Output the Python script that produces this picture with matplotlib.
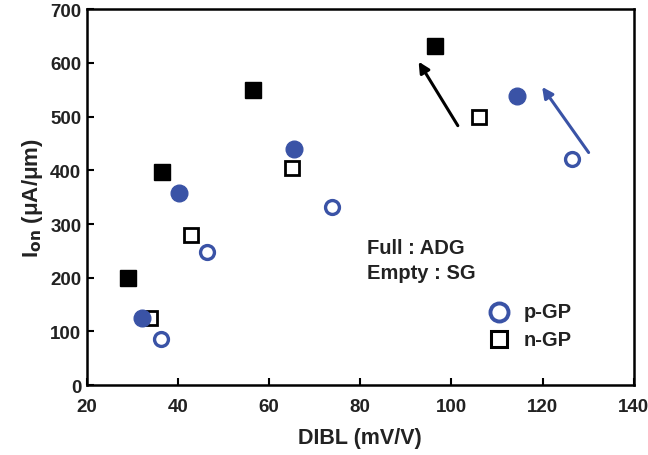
import matplotlib
matplotlib.use("Agg")
import matplotlib.pyplot as plt

plt.rcParams["font.family"] = ["Liberation Sans", "DejaVu Sans"]
plt.rcParams["font.weight"] = "bold"

BLUE = "#3a53a6"

# n-GP, ADG (full squares) / SG (empty squares)
n_adg_x = [29, 36.5, 56.4, 96.3]
n_adg_y = [199, 396, 549, 632]
n_sg_x = [33.8, 42.8, 65.1, 106.1]
n_sg_y = [126, 279, 405, 500]

# p-GP, ADG (full circles) / SG (empty circles)
p_adg_x = [32, 40.2, 65.5, 114.4]
p_adg_y = [126, 358, 440, 538]
p_sg_x = [36.2, 46.4, 73.8, 126.5]
p_sg_y = [86, 248, 332, 421]

x_ticks = [20, 40, 60, 80, 100, 120, 140]
y_ticks = [0, 100, 200, 300, 400, 500, 600, 700]

fig = plt.figure(figsize=(6.48, 4.56), dpi=100)
ax = fig.add_axes([0.134, 0.153, 0.844, 0.825])

ax.plot(n_adg_x, n_adg_y, "s", color="black", markersize=11.5, linestyle="none")
ax.plot(n_sg_x, n_sg_y, "s", markerfacecolor="white", markeredgecolor="black",
        markeredgewidth=2.0, markersize=10.5, linestyle="none")
ax.plot(p_adg_x, p_adg_y, "o", color=BLUE, markersize=12, linestyle="none")
ax.plot(p_sg_x, p_sg_y, "o", markerfacecolor="white", markeredgecolor=BLUE,
        markeredgewidth=2.4, markersize=10, linestyle="none")

# trend arrows
ax.annotate("", xy=(92.8, 602), xytext=(101.4, 483),
            arrowprops=dict(arrowstyle="-|>", color="black", lw=2.2,
                            mutation_scale=16, shrinkA=0, shrinkB=0))
ax.annotate("", xy=(119.9, 555), xytext=(130.1, 433),
            arrowprops=dict(arrowstyle="-|>", color=BLUE, lw=2.2,
                            mutation_scale=16, shrinkA=0, shrinkB=0))

ax.text(81.5, 257, "Full : ADG", fontsize=14.5, fontweight="bold",
        color="#222222", va="center", ha="left")
ax.text(81.5, 210, "Empty : SG", fontsize=14.5, fontweight="bold",
        color="#222222", va="center", ha="left")

# hand-placed legend
ax.plot([110.5], [137], "o", markerfacecolor="white", markeredgecolor=BLUE,
        markeredgewidth=2.8, markersize=13)
ax.plot([110.5], [86], "s", markerfacecolor="white", markeredgecolor="black",
        markeredgewidth=2.2, markersize=11)
ax.text(115.8, 137, "p-GP", fontsize=14.5, fontweight="bold", color="#222222", va="center")
ax.text(115.8, 86, "n-GP", fontsize=14.5, fontweight="bold", color="#222222", va="center")

ax.set_xlim(20, 140)
ax.set_ylim(0, 700)
ax.set_xticks(x_ticks)
ax.set_yticks(y_ticks)
ax.tick_params(direction="in", length=5, width=1.5, labelsize=13.5)
ax.tick_params(axis="x", pad=9)
ax.tick_params(axis="y", pad=4)
for lab in ax.get_xticklabels() + ax.get_yticklabels():
    lab.set_fontweight("bold")
    lab.set_color("#222222")
for sp in ax.spines.values():
    sp.set_linewidth(1.8)

ax.set_xlabel("DIBL (mV/V)", fontsize=15.5, fontweight="bold", labelpad=9,
              color="#222222")
ax.set_ylabel(r"I$_{\mathbf{on}}$ (μA/μm)", fontsize=16, fontweight="bold",
              labelpad=4, color="#222222")

fig.savefig("out.png", dpi=100)
